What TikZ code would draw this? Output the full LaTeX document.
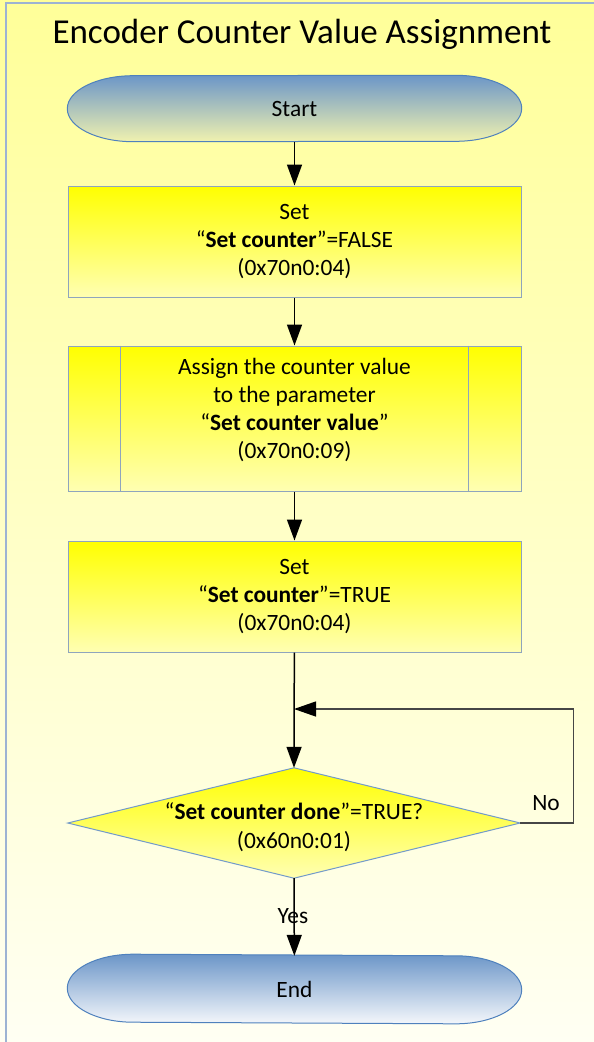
\documentclass[tikz,border=0pt]{standalone}
\usepackage{fontspec}
\setmainfont{Carlito}
\usetikzlibrary{arrows.meta,backgrounds}
\definecolor{PageTop}{RGB}{255,255,153}
\definecolor{PageBot}{RGB}{255,255,243}
\definecolor{FrameClr}{RGB}{157,179,211}
\definecolor{BoxTop}{RGB}{255,255,0}
\definecolor{BoxBot}{RGB}{255,255,178}
\definecolor{BoxLine}{RGB}{143,165,189}
\definecolor{TermTop}{RGB}{108,150,200}
\definecolor{TermLine}{RGB}{79,129,189}
\definecolor{LoopClr}{RGB}{70,70,70}

\tikzset{
  body/.style={font=\fontsize{23.4}{28.3}\selectfont, align=center, text=black},
  procbox/.style={body, draw=BoxLine, line width=1pt, top color=BoxTop, bottom color=BoxBot,
    minimum width=453pt, minimum height=111pt, inner sep=0pt},
  termbox/.style={body, minimum width=322pt, minimum height=66pt, inner sep=0pt},
  termline/.style={draw=TermLine, line width=1pt, top color=TermTop},
  flow/.style={black, line width=1.5pt, -{Triangle[width=15pt,length=21pt]}},
  loopline/.style={LoopClr, line width=1.3pt, -{Triangle[width=15pt,length=22pt,black]}}
}

\begin{document}
\begin{tikzpicture}[x=1pt,y=-1pt]
\useasboundingbox (0,0) rectangle (594,1042);
\clip (0,0) rectangle (594,1042);

% page and frame
\begin{scope}[on background layer]
\shade[top color=PageTop, bottom color=PageBot] (0,0) rectangle (594,1042);
\draw[FrameClr, line width=2pt] (6,3) rectangle (640,1100);
\end{scope}

\node[font=\fontsize{35}{42}\selectfont] (title) at (302,34) {Encoder Counter Value Assignment};

\node[termbox] (start) at (294.5,108.5) {Start};
\node[procbox] (set1) at (294.5,241.5) {Set\\“\textbf{Set counter}”=FALSE\\(0x70n0:04)};
\node[procbox, minimum height=145pt] (assign) at (294.5,418.5)
  {Assign the counter value\\to the parameter\\“\textbf{Set counter value}”\\(0x70n0:09)\\[-8pt]};
\node[procbox] (set2) at (294.5,596.5) {Set\\“\textbf{Set counter}”=TRUE\\(0x70n0:04)};
\node[body, minimum width=452pt, minimum height=110pt, inner sep=0pt] (chk) at (294,823)
  {\\[-3pt]“\textbf{Set counter done}”=TRUE?\\(0x60n0:01)};
\node[termbox] (stop) at (294.5,989) {End};

\draw[BoxLine, line width=1pt] ([xshift=53pt]assign.north west) -- ([xshift=53pt]assign.south west);
\draw[BoxLine, line width=1pt] ([xshift=-53pt]assign.north east) -- ([xshift=-53pt]assign.south east);

% outlines behind the texts
\begin{scope}[on background layer]
\shade[termline, bottom color={rgb,255:red,240;green,242;blue,175}] (start.north east)
  arc[start angle=90,end angle=-90,x radius=66pt,y radius=33pt] -- (start.south west)
  arc[start angle=270,end angle=90,x radius=66pt,y radius=33pt] -- cycle;
\shade[termline, bottom color={rgb,255:red,244;green,247;blue,251}] (stop.north east)
  arc[start angle=90,end angle=-90,x radius=66pt,y radius=34pt] -- (stop.south west)
  arc[start angle=270,end angle=90,x radius=66pt,y radius=34pt] -- cycle;
\shade[draw=TermLine!80, line width=1pt, top color=BoxTop, bottom color=BoxBot]
  (chk.north) -- (chk.east) -- (chk.south) -- (chk.west) -- cycle;
\end{scope}

\coordinate (join) at (294,709);

\draw[flow] (start) -- (set1);
\draw[flow] (set1) -- (assign);
\draw[flow] (assign) -- (set2);
\draw[flow] (set2) -- (chk.north);
\draw[flow] (chk.south) -- (stop);
\draw[loopline] (chk.east) -- ++(53,0) |- (join);

\node[body] (no) at (546,803) {No};
\node[body] (yes) at (293,916) {Yes};
\end{tikzpicture}
\end{document}
